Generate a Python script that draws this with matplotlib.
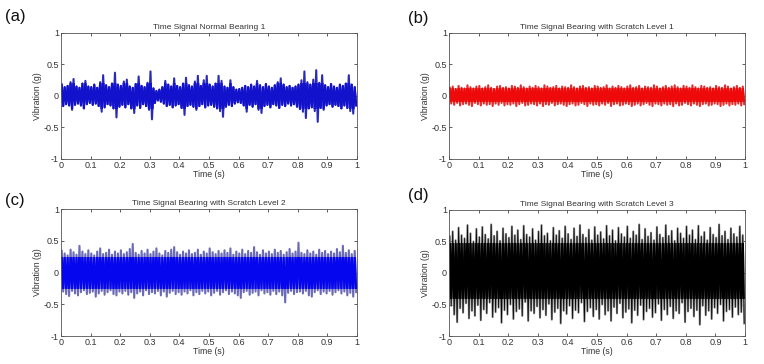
import matplotlib
matplotlib.use("Agg")
import matplotlib.pyplot as plt
from matplotlib.patches import Rectangle
import numpy as np

plt.rcParams["font.family"] = ["Liberation Sans", "DejaVu Sans"]

# envelope of each signal, one upper and one lower extreme per 10 ms (g)
upper_a = [0.18, 0.14, 0.16, 0.22, 0.27, 0.15, 0.13, 0.20, 0.24, 0.15,
           0.14, 0.18, 0.13, 0.22, 0.33, 0.17, 0.14, 0.20, 0.37, 0.18,
           0.16, 0.23, 0.26, 0.15, 0.13, 0.19, 0.31, 0.16, 0.14, 0.21,
           0.39, 0.12, 0.08, 0.10, 0.14, 0.24, 0.18, 0.15, 0.28, 0.16,
           0.14, 0.20, 0.29, 0.17, 0.15, 0.23, 0.32, 0.16, 0.25, 0.32,
           0.18, 0.15, 0.20, 0.32, 0.24, 0.15, 0.13, 0.25, 0.14, 0.10,
           0.11, 0.13, 0.16, 0.14, 0.18, 0.15, 0.24, 0.17, 0.14, 0.19,
           0.15, 0.13, 0.17, 0.22, 0.28, 0.18, 0.14, 0.16, 0.13, 0.15,
           0.18, 0.25, 0.39, 0.22, 0.18, 0.26, 0.41, 0.21, 0.33, 0.17,
           0.14, 0.19, 0.15, 0.13, 0.18, 0.16, 0.20, 0.33, 0.18, 0.14]
lower_a = [-0.16, -0.13, -0.15, -0.22, -0.14, -0.12, -0.15, -0.20, -0.13, -0.11,
           -0.14, -0.12, -0.16, -0.25, -0.18, -0.13, -0.15, -0.20, -0.34, -0.17,
           -0.14, -0.18, -0.13, -0.20, -0.27, -0.15, -0.19, -0.13, -0.16, -0.22,
           -0.37, -0.11, -0.07, -0.09, -0.12, -0.16, -0.14, -0.18, -0.15, -0.13,
           -0.19, -0.30, -0.16, -0.14, -0.17, -0.22, -0.16, -0.13, -0.18, -0.15,
           -0.14, -0.17, -0.20, -0.24, -0.33, -0.17, -0.14, -0.16, -0.12, -0.10,
           -0.11, -0.15, -0.25, -0.14, -0.17, -0.13, -0.22, -0.27, -0.16, -0.14,
           -0.18, -0.13, -0.15, -0.19, -0.14, -0.16, -0.12, -0.15, -0.13, -0.17,
           -0.21, -0.25, -0.35, -0.20, -0.18, -0.24, -0.41, -0.19, -0.22, -0.15,
           -0.13, -0.17, -0.14, -0.16, -0.20, -0.15, -0.19, -0.24, -0.28, -0.15]

upper_b = [0.13, 0.15, 0.11, 0.16, 0.13, 0.12, 0.17, 0.14, 0.12, 0.15,
           0.16, 0.12, 0.14, 0.17, 0.13, 0.11, 0.15, 0.16, 0.13, 0.14,
           0.12, 0.16, 0.15, 0.13, 0.17, 0.14, 0.12, 0.15, 0.13, 0.16,
           0.14, 0.12, 0.17, 0.15, 0.13, 0.14, 0.16, 0.12, 0.15, 0.14,
           0.13, 0.17, 0.14, 0.12, 0.15, 0.16, 0.13, 0.14, 0.12, 0.16,
           0.15, 0.13, 0.14, 0.17, 0.12, 0.15, 0.13, 0.16, 0.14, 0.12,
           0.15, 0.17, 0.13, 0.14, 0.16, 0.12, 0.15, 0.14, 0.13, 0.17,
           0.15, 0.12, 0.14, 0.16, 0.13, 0.15, 0.17, 0.14, 0.12, 0.16,
           0.15, 0.13, 0.17, 0.14, 0.12, 0.16, 0.15, 0.13, 0.14, 0.12,
           0.16, 0.14, 0.13, 0.17, 0.15, 0.12, 0.14, 0.16, 0.13, 0.15]
lower_b = [-0.12, -0.14, -0.11, -0.15, -0.13, -0.12, -0.14, -0.16, -0.11, -0.13,
           -0.15, -0.12, -0.14, -0.13, -0.16, -0.12, -0.14, -0.11, -0.15, -0.13,
           -0.14, -0.12, -0.16, -0.13, -0.11, -0.15, -0.14, -0.12, -0.13, -0.15,
           -0.12, -0.16, -0.13, -0.14, -0.11, -0.15, -0.13, -0.12, -0.14, -0.16,
           -0.13, -0.12, -0.15, -0.14, -0.11, -0.13, -0.16, -0.12, -0.14, -0.13,
           -0.15, -0.12, -0.14, -0.11, -0.16, -0.13, -0.12, -0.15, -0.14, -0.12,
           -0.13, -0.16, -0.14, -0.12, -0.15, -0.13, -0.11, -0.14, -0.16, -0.12,
           -0.13, -0.15, -0.12, -0.14, -0.13, -0.16, -0.12, -0.15, -0.14, -0.11,
           -0.13, -0.15, -0.12, -0.14, -0.16, -0.13, -0.12, -0.15, -0.14, -0.12,
           -0.13, -0.16, -0.14, -0.12, -0.15, -0.13, -0.14, -0.12, -0.15, -0.13]

upper_c = [0.34, 0.30, 0.27, 0.36, 0.32, 0.28, 0.42, 0.33, 0.29, 0.35,
           0.30, 0.27, 0.33, 0.38, 0.29, 0.31, 0.36, 0.28, 0.33, 0.30,
           0.35, 0.29, 0.32, 0.37, 0.45, 0.31, 0.28, 0.34, 0.30, 0.36,
           0.29, 0.33, 0.38, 0.30, 0.27, 0.34, 0.31, 0.36, 0.40, 0.32,
           0.28, 0.33, 0.30, 0.35, 0.29, 0.31, 0.36, 0.28, 0.33, 0.30,
           0.38, 0.32, 0.29, 0.34, 0.30, 0.35, 0.31, 0.38, 0.28, 0.33,
           0.30, 0.36, 0.29, 0.34, 0.31, 0.40, 0.32, 0.28, 0.35, 0.30,
           0.33, 0.29, 0.36, 0.31, 0.34, 0.28, 0.32, 0.37, 0.30, 0.33,
           0.47, 0.31, 0.29, 0.35, 0.30, 0.33, 0.28, 0.36, 0.31, 0.34,
           0.29, 0.33, 0.30, 0.37, 0.32, 0.42, 0.31, 0.35, 0.29, 0.34]
lower_c = [-0.30, -0.34, -0.37, -0.29, -0.33, -0.36, -0.31, -0.28, -0.34, -0.32,
           -0.30, -0.38, -0.33, -0.29, -0.35, -0.31, -0.28, -0.34, -0.36, -0.30,
           -0.33, -0.29, -0.35, -0.31, -0.40, -0.33, -0.30, -0.36, -0.28, -0.34,
           -0.31, -0.33, -0.29, -0.36, -0.30, -0.38, -0.32, -0.29, -0.34, -0.31,
           -0.35, -0.30, -0.33, -0.28, -0.36, -0.31, -0.34, -0.29, -0.33, -0.30,
           -0.36, -0.32, -0.29, -0.35, -0.31, -0.28, -0.34, -0.30, -0.33, -0.36,
           -0.40, -0.31, -0.29, -0.35, -0.32, -0.30, -0.36, -0.28, -0.33, -0.31,
           -0.35, -0.29, -0.34, -0.30, -0.36, -0.47, -0.32, -0.29, -0.34, -0.31,
           -0.30, -0.33, -0.29, -0.36, -0.38, -0.31, -0.28, -0.34, -0.30, -0.33,
           -0.29, -0.35, -0.31, -0.28, -0.33, -0.30, -0.36, -0.32, -0.38, -0.31]

upper_d = [0.58, 0.66, 0.52, 0.72, 0.60, 0.55, 0.76, 0.63, 0.50, 0.70,
           0.57, 0.73, 0.61, 0.54, 0.77, 0.59, 0.66, 0.51, 0.71, 0.62,
           0.56, 0.74, 0.60, 0.68, 0.53, 0.75, 0.61, 0.57, 0.70, 0.52,
           0.66, 0.76, 0.59, 0.63, 0.51, 0.72, 0.60, 0.67, 0.55, 0.74,
           0.62, 0.53, 0.71, 0.58, 0.76, 0.61, 0.56, 0.69, 0.52, 0.73,
           0.60, 0.65, 0.54, 0.75, 0.59, 0.68, 0.51, 0.72, 0.62, 0.57,
           0.74, 0.55, 0.66, 0.60, 0.77, 0.53, 0.70, 0.58, 0.64, 0.52,
           0.73, 0.61, 0.56, 0.76, 0.59, 0.67, 0.51, 0.71, 0.63, 0.55,
           0.74, 0.60, 0.68, 0.53, 0.75, 0.58, 0.65, 0.52, 0.72, 0.61,
           0.56, 0.77, 0.59, 0.66, 0.53, 0.71, 0.62, 0.57, 0.74, 0.60]
lower_d = [-0.52, -0.66, -0.78, -0.56, -0.63, -0.48, -0.72, -0.60, -0.68, -0.51,
           -0.75, -0.58, -0.64, -0.47, -0.70, -0.62, -0.55, -0.79, -0.59, -0.66,
           -0.50, -0.73, -0.61, -0.57, -0.68, -0.46, -0.76, -0.60, -0.64, -0.53,
           -0.71, -0.58, -0.67, -0.49, -0.74, -0.62, -0.56, -0.80, -0.60, -0.65,
           -0.52, -0.72, -0.59, -0.63, -0.47, -0.77, -0.61, -0.55, -0.69, -0.58,
           -0.73, -0.50, -0.66, -0.60, -0.76, -0.54, -0.64, -0.48, -0.71, -0.62,
           -0.57, -0.79, -0.59, -0.67, -0.51, -0.74, -0.61, -0.56, -0.70, -0.63,
           -0.49, -0.75, -0.58, -0.66, -0.53, -0.72, -0.60, -0.64, -0.47, -0.78,
           -0.61, -0.56, -0.69, -0.59, -0.82, -0.52, -0.67, -0.60, -0.73, -0.55,
           -0.64, -0.50, -0.76, -0.61, -0.58, -0.70, -0.54, -0.66, -0.62, -0.80]

titles = ["Time Signal Normal Bearing 1",
          "Time Signal Bearing with Scratch Level 1",
          "Time Signal Bearing with Scratch Level 2",
          "Time Signal Bearing with Scratch Level 3"]
panel_labels = ["(a)", "(b)", "(c)", "(d)"]
x_ticks = [0, 0.1, 0.2, 0.3, 0.4, 0.5, 0.6, 0.7, 0.8, 0.9, 1]
x_tick_labels = ["0", "0.1", "0.2", "0.3", "0.4", "0.5", "0.6", "0.7", "0.8", "0.9", "1"]
y_ticks = [-1, -0.5, 0, 0.5, 1]
y_tick_labels = ["-1", "-0.5", "0", "0.5", "1"]

signals = [(upper_a, lower_a), (upper_b, lower_b), (upper_c, lower_c), (upper_d, lower_d)]
core_colors = ["#1212cc", "#ee0a0a", "#0606ee", "#000000"]
tip_colors = ["#2a2ab8", "#e03030", "#6a6ab8", "#808080"]
# solid core of the dense trace (display only)
core_band = [(-0.2, 0.2), (-0.1, 0.12), (-0.26, 0.25), (-0.42, 0.47)]
thin_overlay = [False, False, False, True]

# axes boxes in figure fractions
boxes = [[0.0798, 0.5632, 0.3874, 0.3462],
         [0.5877, 0.5632, 0.3874, 0.3462],
         [0.0798, 0.0769, 0.3874, 0.3489],
         [0.5877, 0.0769, 0.3874, 0.3462]]
label_pos = [(0.006, 0.955), (0.534, 0.948), (0.006, 0.448), (0.534, 0.462)]

fig = plt.figure(figsize=(7.64, 3.64), dpi=100)
text_col = "#333333"

for k in range(4):
    up, lo = signals[k]
    n = len(up)
    t = np.empty(2 * n)
    y = np.empty(2 * n)
    t[0::2] = (np.arange(n) + 0.25) / n
    t[1::2] = (np.arange(n) + 0.75) / n
    y[0::2] = up
    y[1::2] = lo

    ax = fig.add_axes(boxes[k])
    ax.plot(t, y, color=tip_colors[k], lw=1.5)
    if thin_overlay[k]:
        ax.plot(t, y, color=core_colors[k], lw=0.5)
    core, = ax.plot(t, y, color=core_colors[k], lw=1.5)
    b0, b1 = core_band[k]
    clip = Rectangle((0, b0), 1, b1 - b0, transform=ax.transData)
    core.set_clip_path(clip)

    ax.set_xlim(0, 1)
    ax.set_ylim(-1, 1)
    ax.set_xticks(x_ticks)
    ax.set_xticklabels(x_tick_labels)
    ax.set_yticks(y_ticks)
    ax.set_yticklabels(y_tick_labels)
    ax.tick_params(direction="in", top=True, right=True, length=2.5, width=0.6,
                   labelsize=6.5, labelcolor=text_col, pad=1.5, color="#444444")
    for s in ax.spines.values():
        s.set_linewidth(0.6)
        s.set_color("#555555")
    ax.set_title(titles[k], fontsize=6.0, color=text_col, pad=3)
    ax.set_xlabel("Time (s)", fontsize=6.3, color=text_col, labelpad=0)
    ax.set_ylabel("Vibration (g)", fontsize=6.3, color=text_col, labelpad=1)
    fig.text(label_pos[k][0], label_pos[k][1], panel_labels[k], fontsize=12,
             color="#111111", ha="left", va="center")

fig.savefig("out.png", dpi=100)
